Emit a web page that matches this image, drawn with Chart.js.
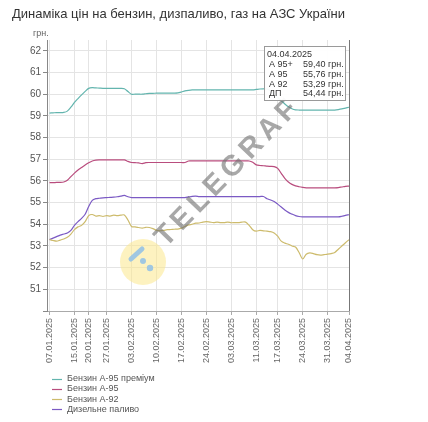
<!DOCTYPE html>
<html>
<head>
<meta charset="utf-8">
<script src="https://cdn.jsdelivr.net/npm/chart.js@4"></script>
<style>
  html, body { margin: 0; padding: 0; background: #fff; }
  canvas { display: block; }
</style>
</head>
<body>
<canvas id="c" width="428" height="422"></canvas>
<script>
const titleText = "Динаміка цін на бензин, дизпаливо, газ на АЗС України";
const unitLabel = "грн.";
const tooltipDate = "04.04.2025";

// x-axis tick labels and the point index where each one sits
const tickLabels = ["07.01.2025","15.01.2025","20.01.2025","27.01.2025","03.02.2025","10.02.2025","17.02.2025","24.02.2025","03.03.2025","11.03.2025","17.03.2025","24.03.2025","31.03.2025","04.04.2025"];
const tickIndex = [0,7,11,16,23,30,37,44,51,58,64,71,78,84];

const seriesNames = ["Бензин А-95 преміум","Бензин А-95","Бензин А-92","Дизельне паливо"];
const shortNames = ["A 95+","A 95","A 92","ДП"];
const seriesColors = ["#63b5ae","#b94d7e","#cdbb6c","#7b5ac4"];

const a95plus = [59.13,59.14,59.15,59.15,59.16,59.22,59.40,59.62,59.80,59.97,
  60.13,60.27,60.30,60.29,60.28,60.27,60.27,60.27,60.27,60.27,
  60.27,60.25,60.12,60.00,60.00,60.00,60.00,60.02,60.04,60.04,
  60.05,60.05,60.05,60.05,60.05,60.05,60.06,60.10,60.15,60.18,
  60.20,60.20,60.20,60.20,60.20,60.20,60.20,60.20,60.20,60.20,
  60.20,60.20,60.20,60.20,60.20,60.20,60.20,60.20,60.22,60.24,
  60.25,60.24,60.15,60.00,59.85,59.70,59.55,59.42,59.33,59.28,
  59.27,59.27,59.27,59.27,59.27,59.27,59.27,59.27,59.27,59.27,
  59.27,59.29,59.32,59.36,59.40];

const a95 = [55.92,55.92,55.93,55.93,55.95,56.03,56.20,56.36,56.50,56.62,
  56.74,56.84,56.92,56.96,56.97,56.97,56.97,56.97,56.97,56.97,
  56.97,56.97,56.90,56.85,56.84,56.83,56.80,56.84,56.85,56.85,
  56.85,56.85,56.85,56.85,56.85,56.85,56.85,56.85,56.85,56.92,
  56.92,56.92,56.92,56.92,56.92,56.92,56.92,56.92,56.92,56.92,
  56.92,56.92,56.92,56.92,56.92,56.92,56.92,56.86,56.74,56.71,
  56.70,56.68,56.67,56.66,56.58,56.35,56.12,55.95,55.84,55.77,
  55.73,55.70,55.68,55.68,55.68,55.68,55.68,55.68,55.68,55.68,
  55.68,55.69,55.72,55.75,55.76];

const a92 = [53.30,53.25,53.22,53.27,53.32,53.40,53.55,53.75,53.88,53.95,
  54.12,54.40,54.45,54.38,54.40,54.36,54.40,54.38,54.42,54.40,
  54.42,54.43,54.20,53.90,53.88,53.85,53.82,53.86,53.85,53.80,
  53.72,53.70,53.72,53.75,53.76,53.77,53.78,53.82,53.90,53.97,
  54.00,54.05,54.06,54.10,54.12,54.10,54.08,54.10,54.08,54.08,
  54.10,54.07,54.08,54.08,54.10,54.10,53.95,53.75,53.68,53.72,
  53.70,53.68,53.66,53.60,53.45,53.22,53.13,53.08,53.00,52.95,
  52.70,52.40,52.62,52.68,52.65,52.60,52.58,52.60,52.62,52.65,
  52.70,52.85,53.00,53.15,53.29];

const diesel = [53.29,53.36,53.43,53.50,53.55,53.60,53.72,53.95,54.12,54.27,
  54.46,54.82,55.10,55.18,55.20,55.22,55.23,55.24,55.25,55.27,
  55.30,55.33,55.27,55.23,55.23,55.23,55.23,55.23,55.23,55.23,
  55.23,55.23,55.23,55.23,55.23,55.23,55.23,55.23,55.23,55.26,
  55.29,55.30,55.28,55.28,55.28,55.28,55.28,55.28,55.28,55.28,
  55.28,55.28,55.28,55.28,55.28,55.28,55.28,55.28,55.28,55.28,
  55.28,55.18,55.12,55.05,54.93,54.80,54.66,54.55,54.47,54.40,
  54.36,54.34,54.34,54.34,54.34,54.34,54.34,54.34,54.34,54.34,
  54.34,54.34,54.37,54.41,54.44];

const seriesValues = [a95plus, a95, a92, diesel];
const hoverIndex = 84;

const FONT = "'Liberation Sans', Arial, sans-serif";

const extras = {
  id: 'extras',
  afterDatasetsDraw(chart) {
    const ctx = chart.ctx;
    // watermark logo
    ctx.save();
    ctx.fillStyle = 'rgba(252,232,140,0.55)';
    ctx.beginPath(); ctx.arc(143, 262, 23, 0, Math.PI * 2); ctx.fill();
    ctx.strokeStyle = 'rgba(150,195,230,0.9)';
    ctx.lineWidth = 5; ctx.lineCap = 'round';
    ctx.beginPath(); ctx.moveTo(131, 259); ctx.lineTo(142, 249); ctx.stroke();
    ctx.fillStyle = 'rgba(150,195,230,0.9)';
    ctx.beginPath(); ctx.arc(143, 261, 3, 0, Math.PI * 2); ctx.fill();
    ctx.beginPath(); ctx.arc(150, 268, 3.2, 0, Math.PI * 2); ctx.fill();
    ctx.restore();
    // watermark text
    ctx.save();
    ctx.translate(166, 248);
    ctx.rotate(-46 * Math.PI / 180);
    ctx.font = "bold 29px " + FONT;
    ctx.fillStyle = 'rgba(110,110,110,0.6)';
    ctx.textBaseline = 'alphabetic';
    let x = 0;
    for (const ch of "TELEGRAF") {
      ctx.fillText(ch, x, 0);
      x += ctx.measureText(ch).width + 5;
    }
    ctx.restore();
  },
  afterDraw(chart) {
    const ctx = chart.ctx;
    const area = chart.chartArea;
    const xs = chart.scales.x;
    // unit label
    ctx.save();
    ctx.font = "9px " + FONT;
    ctx.fillStyle = '#666';
    ctx.textAlign = 'left';
    ctx.textBaseline = 'middle';
    ctx.fillText(unitLabel, 33, 34);
    ctx.restore();
    // crosshair
    const hx = Math.round(xs.getPixelForValue(hoverIndex)) + 0.5;
    ctx.save();
    ctx.strokeStyle = '#777';
    ctx.lineWidth = 1;
    ctx.beginPath(); ctx.moveTo(hx, area.top); ctx.lineTo(hx, area.bottom); ctx.stroke();
    ctx.restore();
    // tooltip box
    ctx.save();
    const bx = 264.5, by = 46.5, bw = 81, bh = 54;
    ctx.fillStyle = 'rgba(255,255,255,0.95)';
    ctx.fillRect(bx, by, bw, bh);
    ctx.strokeStyle = '#9a9a9a';
    ctx.lineWidth = 1;
    ctx.strokeRect(bx, by, bw, bh);
    ctx.font = "9px " + FONT;
    ctx.fillStyle = '#333';
    ctx.textBaseline = 'middle';
    ctx.textAlign = 'left';
    ctx.fillText(tooltipDate, 267, 54.5);
    for (let k = 0; k < shortNames.length; k++) {
      const y = 64.5 + k * 9.8;
      ctx.fillText(shortNames[k], 269, y);
      const v = seriesValues[k][hoverIndex];
      ctx.fillText(v.toFixed(2).replace('.', ',') + ' грн.', 303, y);
    }
    ctx.restore();
    // legend (stacked)
    ctx.save();
    ctx.font = "9px " + FONT;
    ctx.textBaseline = 'middle';
    ctx.textAlign = 'left';
    chart.data.datasets.forEach((ds, k) => {
      const y = 378.5 + k * 10.3;
      ctx.strokeStyle = ds.borderColor;
      ctx.lineWidth = 1.2;
      ctx.beginPath(); ctx.moveTo(52, Math.round(y) + 0.5); ctx.lineTo(62, Math.round(y) + 0.5); ctx.stroke();
      ctx.fillStyle = '#555';
      ctx.fillText(ds.label, 67, y);
    });
    ctx.restore();
  }
};

new Chart(document.getElementById('c'), {
  type: 'line',
  data: {
    datasets: seriesNames.map((name, k) => ({
      label: name,
      data: seriesValues[k].map((v, i) => ({ x: i, y: v })),
      borderColor: seriesColors[k],
      backgroundColor: seriesColors[k],
      borderWidth: 1.2,
      pointRadius: 0,
      tension: 0.3,
      fill: false
    }))
  },
  options: {
    responsive: false,
    animation: false,
    devicePixelRatio: 1,
    events: [],
    layout: { padding: { left: 12, right: 79, top: 0, bottom: 0 } },
    plugins: {
      legend: { display: false },
      tooltip: { enabled: false },
      title: {
        display: true,
        text: titleText,
        align: 'start',
        color: '#333',
        font: { family: FONT, size: 13, weight: 'normal' },
        padding: { top: 7, bottom: 17.4 }
      }
    },
    scales: {
      x: {
        type: 'linear',
        min: -0.7,
        max: 84,
        afterBuildTicks: (s) => { s.ticks = tickIndex.map(v => ({ value: v })); },
        afterFit: (s) => { s.height = 111; },
        ticks: {
          autoSkip: false,
          minRotation: 90,
          maxRotation: 90,
          padding: 3,
          color: '#666',
          font: { family: FONT, size: 9 },
          callback: (v, i) => tickLabels[i]
        },
        grid: { color: '#e4e4e4', tickLength: 4, tickColor: '#aaa' },
        border: { color: '#aaa' }
      },
      y: {
        min: 50,
        max: 62.5,
        afterFit: (s) => { s.width = 35; },
        ticks: {
          stepSize: 1,
          includeBounds: false,
          padding: 2,
          color: '#555',
          font: { family: FONT, size: 10 },
          callback: (v) => (v === 50 ? '' : v)
        },
        grid: { color: '#e4e4e4', tickLength: 4, tickColor: '#888' },
        border: { color: '#888' }
      }
    }
  },
  plugins: [extras]
});
</script>
</body>
</html>
